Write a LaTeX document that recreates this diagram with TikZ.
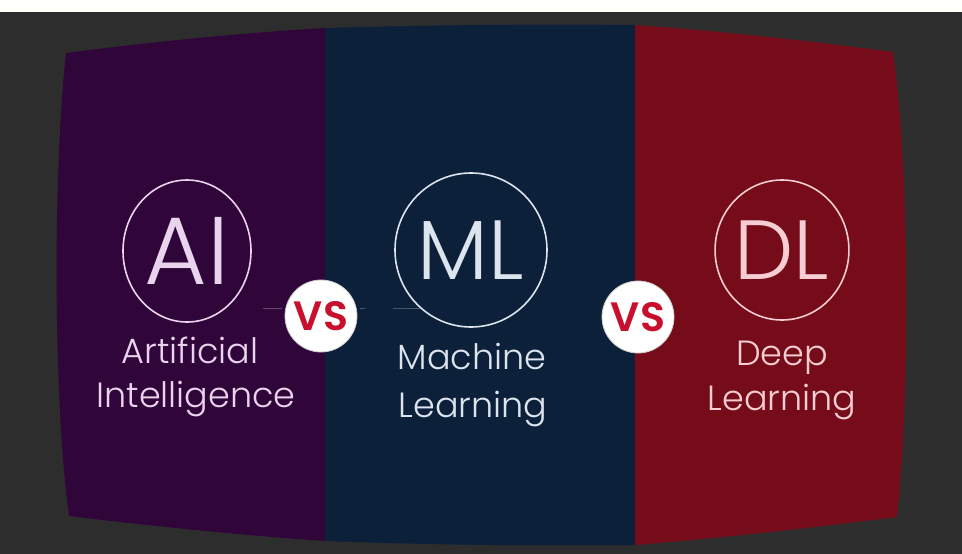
\documentclass[tikz,border=0pt]{standalone}
\usepackage{fontspec}
\setmainfont{Poppins Light}
\newfontfamily\vsfont{Poppins SemiBold}
\usetikzlibrary{calc}
\usetikzlibrary{shapes.geometric}

\definecolor{backgrey}{HTML}{2D2D2D}
\definecolor{aipurple}{HTML}{30063A}
\definecolor{mlblue}{HTML}{0C203A}
\definecolor{dlred}{HTML}{760C1A}
\definecolor{aitext}{HTML}{EAD3EC}
\definecolor{mltext}{HTML}{DCE4EE}
\definecolor{dltext}{HTML}{F5CDD2}
\definecolor{vsred}{HTML}{C8102E}

\begin{document}
\begin{tikzpicture}[x=1pt, y=-1pt,
	badge/.style={ellipse, draw, line width=1.6pt, inner sep=0pt, font=\fontsize{84}{84}\selectfont},
	caption/.style={anchor=base, inner sep=0pt, font=\fontsize{35}{35}\selectfont},
	vsdisc/.style={circle, fill=white, draw=white!80!black, line width=0.8pt, minimum size=72pt, inner sep=0pt, text=vsred, font=\vsfont\fontsize{41}{41}\selectfont}]
	\useasboundingbox (0,0) rectangle (962,554);
	\fill[white!99!yellow] (0,0) rectangle (962,12);
	\fill[backgrey] (0,12) rectangle (962,554);

	% the three panels
	\fill[aipurple] (66,53) .. controls (150,42) and (240,33) .. (325,28) -- (325,541)
		.. controls (240,535) and (150,526) .. (69,516) .. controls (53,400) and (53,170) .. (66,53) -- cycle;
	\fill[mlblue] (325,28) .. controls (430,25) and (530,24) .. (635,25) -- (635,545)
		.. controls (530,546) and (430,545) .. (325,541) -- cycle;
	\fill[dlred] (635,25) .. controls (720,31) and (810,41) .. (893,52) .. controls (910,170) and (910,400) .. (897,517)
		.. controls (810,528) and (720,538) .. (635,545) -- cycle;

	\node[badge, draw=aitext, text=aitext, minimum width=128pt, minimum height=142pt, font=\fontsize{96}{96}\selectfont] (ai) at (187,251) {AI};
	\node[badge, draw=mltext, text=mltext, minimum width=152pt, minimum height=154pt] (ml) at (471,250) {ML};
	\node[badge, draw=dltext, text=dltext, minimum width=130pt, minimum height=140pt] (dl) at (782,250) {DL};

	\node[caption, text=aitext] (ai1) at ($(ai)+(3,112)$) {Artificial};
	\node[caption, text=aitext] (ai2) at ($(ai1.base)+(6,44)$) {Intelligence};
	\node[caption, text=mltext] (ml1) at ($(ml)+(1,119)$) {Machine};
	\node[caption, text=mltext] (ml2) at ($(ml1.base)+(1,48)$) {Learning};
	\node[caption, text=dltext] (dl1) at ($(dl)+(0,115)$) {Deep};
	\node[caption, text=dltext] (dl2) at ($(dl1.base)+(0,45)$) {Learning};

	\coordinate (dashL) at (263,308);
	\coordinate (dashR) at (420,308);
	\draw[white, opacity=0.25, line width=1pt, dash pattern=on 19pt off 78pt on 5pt off 28pt on 27pt] (dashL) -- (dashR);

	\node[vsdisc] (vs1) at (321,316) {VS};
	\node[vsdisc] (vs2) at (638,317) {VS};
\end{tikzpicture}
\end{document}
